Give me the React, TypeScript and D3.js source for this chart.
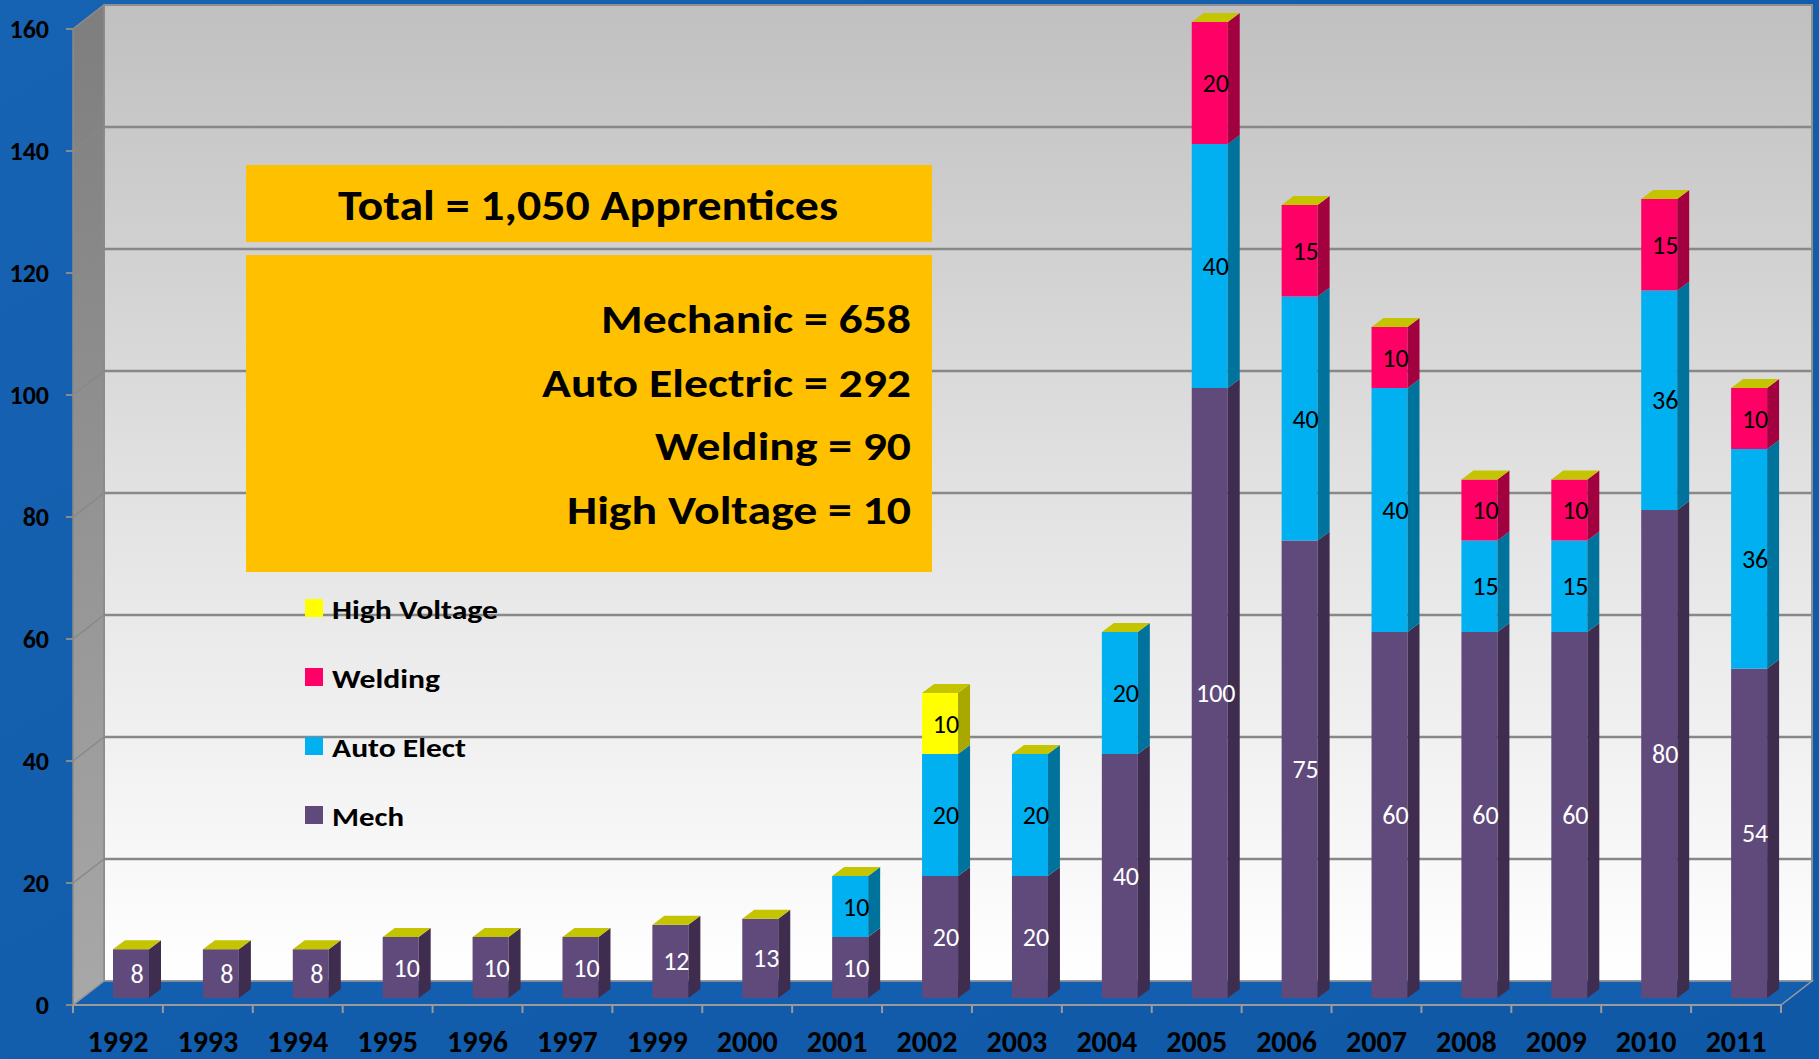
import React from "react"
import * as d3 from "d3"

// data
const years = ["1992", "1993", "1994", "1995", "1996", "1997", "1999", "2000", "2001", "2002", "2003", "2004", "2005", "2006", "2007", "2008", "2009", "2010", "2011"]
const mech = [8, 8, 8, 10, 10, 10, 12, 13, 10, 20, 20, 40, 100, 75, 60, 60, 60, 80, 54]
const autoElect = [0, 0, 0, 0, 0, 0, 0, 0, 10, 20, 20, 20, 40, 40, 40, 15, 15, 36, 36]
const welding = [0, 0, 0, 0, 0, 0, 0, 0, 0, 0, 0, 0, 20, 15, 10, 10, 10, 15, 10]
const highVoltage = [0, 0, 0, 0, 0, 0, 0, 0, 0, 10, 0, 0, 0, 0, 0, 0, 0, 0, 0]
const yTicks = [0, 20, 40, 60, 80, 100, 120, 140, 160]

const seriesKeys = ["mech", "auto", "welding", "hv"]
const seriesNames: Record<string, string> = { mech: "Mech", auto: "Auto Elect", welding: "Welding", hv: "High Voltage" }
const frontColor: Record<string, string> = { mech: "#604A7B", auto: "#00B0F0", welding: "#FF0066", hv: "#FFFF00" }
const sideColor: Record<string, string> = { mech: "#3F2D50", auto: "#00739C", welding: "#A3003F", hv: "#A8A800" }
const labelColor: Record<string, string> = { mech: "#FFFFFF", auto: "#000000", welding: "#000000", hv: "#000000" }
const legendOrder = ["hv", "welding", "auto", "mech"]
const legendLen: Record<string, number> = { hv: 166, welding: 108, auto: 134, mech: 72 }

const summaryLines = [
  { text: "Mechanic = 658", len: 310 },
  { text: "Auto Electric = 292", len: 369 },
  { text: "Welding = 90", len: 256 },
  { text: "High Voltage = 10", len: 344 },
]

const W = 1819
const H = 1059
const FONT = "Carlito, Lato, 'Open Sans', sans-serif"

// 3D geometry
const frontLeft = 73
const frontRight = 1781
const axisY = 1005
const wallDx = 31
const wallDy = -24
const barBase = 998
const barDx = 12
const barDy = -9
const barOffset = 40
const barWidth = 36

const App = () => {
  const rows = years.map((y, i) => ({
    year: y,
    mech: mech[i],
    auto: autoElect[i],
    welding: welding[i],
    hv: highVoltage[i],
  }))

  const stacked = d3.stack<any>().keys(seriesKeys)(rows)

  const x = d3.scaleBand<string>().domain(years).range([frontLeft, frontRight])
  // value scale on the front plane (axis labels / ticks)
  const yFront = d3.scaleLinear().domain([0, 160]).range([axisY, axisY - 976])
  // value scale on the back wall
  const yBack = d3.scaleLinear().domain([0, 160]).range([axisY + wallDy, axisY + wallDy - 976])
  // value scale for bar fronts
  const yBar = d3.scaleLinear().domain([0, 160]).range([barBase, barBase - 976])

  const backLeft = frontLeft + wallDx
  const backRight = frontRight + wallDx
  const wallTop = yBack(160)
  const wallBottom = yBack(0)

  const bars = years.map((yr, i) => {
    const x0 = (x(yr) as number) + barOffset
    const x1 = x0 + barWidth
    const segs = stacked
      .map((s) => ({ key: s.key, lo: s[i][0], hi: s[i][1] }))
      .filter((s) => s.hi - s.lo > 0)
    const topVal = segs.length ? segs[segs.length - 1].hi : 0
    return { yr, x0, x1, segs, topVal }
  })

  return (
    <svg
      width={W}
      height={H}
      style={{ position: "absolute", left: 0, top: 0, display: "block" }}
      fontFamily={FONT}
    >
      <defs>
        <linearGradient id="bg" x1="0" y1="0" x2="1" y2="1">
          <stop offset="0" stopColor="#1763B3" />
          <stop offset="0.5" stopColor="#125DAC" />
          <stop offset="1" stopColor="#0F58A6" />
        </linearGradient>
        <linearGradient id="wall" x1="0" y1="0" x2="0" y2="1">
          <stop offset="0" stopColor="#C0C0C0" />
          <stop offset="0.5" stopColor="#E2E2E2" />
          <stop offset="1" stopColor="#FFFFFF" />
        </linearGradient>
        <linearGradient id="side" x1="0" y1="0" x2="0" y2="1">
          <stop offset="0" stopColor="#7E7E7E" />
          <stop offset="1" stopColor="#A8A8A8" />
        </linearGradient>
      </defs>

      <rect x={0} y={0} width={W} height={H} fill="url(#bg)" />

      {/* back wall */}
      <rect x={backLeft} y={wallTop} width={backRight - backLeft} height={wallBottom - wallTop} fill="url(#wall)" stroke="#8F8F8F" strokeWidth={2} />

      {/* left side wall */}
      <polygon
        points={`${frontLeft},${yFront(160)} ${backLeft},${wallTop} ${backLeft},${wallBottom} ${frontLeft},${axisY}`}
        fill="url(#side)"
        stroke="#8A8A8A"
        strokeWidth={1.5}
      />

      {/* floor */}
      <polygon
        points={`${frontLeft},${axisY} ${frontRight},${axisY} ${backRight},${wallBottom} ${backLeft},${wallBottom}`}
        fill="#135EAE"
        stroke="#9A9A9A"
        strokeWidth={1.5}
      />

      {/* gridlines */}
      {yTicks.map((t) => (
        <g key={t}>
          {t > 0 && t < 160 && (
            <line x1={backLeft} x2={backRight} y1={yBack(t)} y2={yBack(t)} stroke="#888888" strokeWidth={2.5} />
          )}
          {t > 0 && (
            <line x1={frontLeft} x2={backLeft} y1={yFront(t)} y2={yBack(t)} stroke="#888888" strokeWidth={1.5} />
          )}
          <line x1={frontLeft - 7} x2={frontLeft} y1={yFront(t)} y2={yFront(t)} stroke="#8A8A8A" strokeWidth={2} />
          <text
            x={49}
            y={yFront(t)}
            textAnchor="end"
            dominantBaseline="central"
            fontSize={26}
            fontWeight="bold"
            fill="#000"
          >
            {t}
          </text>
        </g>
      ))}

      {/* x axis */}
      <line x1={frontLeft} x2={frontRight} y1={axisY} y2={axisY} stroke="#9A9A9A" strokeWidth={2} />
      {d3.range(years.length + 1).map((i) => {
        const xx = frontLeft + i * x.step()
        return <line key={i} x1={xx} x2={xx} y1={axisY} y2={axisY + 8} stroke="#9A9A9A" strokeWidth={2} />
      })}
      {years.map((yr) => (
        <text
          key={yr}
          x={(x(yr) as number) + x.bandwidth() / 2}
          y={1052}
          textAnchor="middle"
          fontSize={30}
          fontWeight="bold"
          fill="#000"
        >
          {yr}
        </text>
      ))}

      {/* bars */}
      {bars.map((b) => (
        <g key={b.yr}>
          {b.segs.map((s) => {
            const yt = yBar(s.hi)
            const yb = yBar(s.lo)
            return (
              <g key={s.key}>
                <rect x={b.x0} y={yt} width={barWidth} height={yb - yt} fill={frontColor[s.key]} />
                <polygon
                  points={`${b.x1},${yt} ${b.x1 + barDx},${yt + barDy} ${b.x1 + barDx},${yb + barDy} ${b.x1},${yb}`}
                  fill={sideColor[s.key]}
                />
              </g>
            )
          })}
          <polygon
            points={`${b.x0},${yBar(b.topVal)} ${b.x0 + barDx},${yBar(b.topVal) + barDy} ${b.x1 + barDx},${yBar(b.topVal) + barDy} ${b.x1},${yBar(b.topVal)}`}
            fill="#C4C400"
          />
          {b.segs.map((s) => (
            <text
              key={s.key + "-l"}
              x={(b.x0 + b.x1) / 2 + 6}
              y={yBar((s.lo + s.hi) / 2)}
              textAnchor="middle"
              dominantBaseline="central"
              fontSize={26}
              fill={labelColor[s.key]}
            >
              {s.hi - s.lo}
            </text>
          ))}
        </g>
      ))}

      {/* summary boxes */}
      <rect x={246} y={165} width={686} height={77} fill="#FFC000" />
      <text x={588} y={220} textAnchor="middle" fontSize={43} fontWeight="bold" fill="#000" textLength={500} lengthAdjust="spacingAndGlyphs">
        Total = 1,050 Apprentices
      </text>
      <rect x={246} y={255} width={686} height={317} fill="#FFC000" />
      {summaryLines.map((l, i) => (
        <text
          key={l.text}
          x={911}
          y={333 + i * 63.5}
          textAnchor="end"
          fontSize={41}
          fontWeight="bold"
          fill="#000"
          textLength={l.len}
          lengthAdjust="spacingAndGlyphs"
        >
          {l.text}
        </text>
      ))}

      {/* legend */}
      {legendOrder.map((k, i) => (
        <g key={k} transform={`translate(305, ${608 + i * 69})`}>
          <rect x={0} y={-9} width={18} height={18} fill={frontColor[k]} />
          <text
            x={27}
            y={1}
            dominantBaseline="central"
            fontSize={27}
            fontWeight="bold"
            fill="#000"
            textLength={legendLen[k]}
            lengthAdjust="spacingAndGlyphs"
          >
            {seriesNames[k]}
          </text>
        </g>
      ))}
    </svg>
  )
}

export default App
